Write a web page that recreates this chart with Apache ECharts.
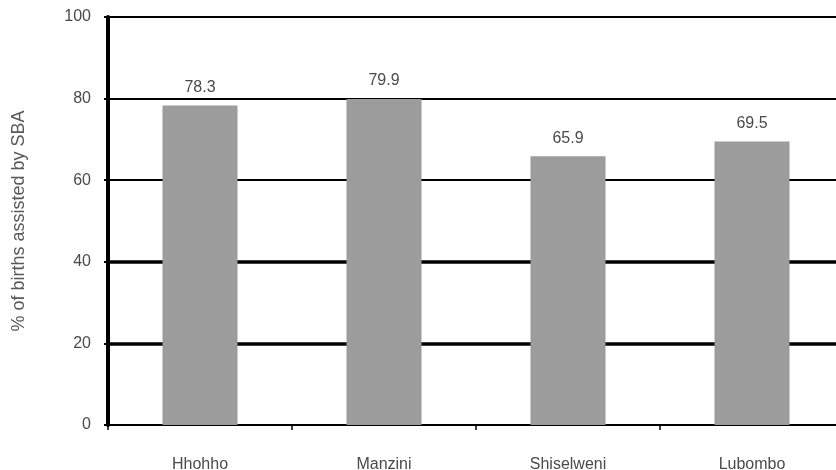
<!DOCTYPE html>
<html>
<head>
<meta charset="utf-8">
<script src="https://cdn.jsdelivr.net/npm/echarts@6/dist/echarts.min.js"></script>
<style>
  html, body { margin: 0; padding: 0; background: #fff; overflow: hidden; }
  /* plot area runs slightly past the right edge of the window */
  #chart { width: 844px; height: 470px; }
</style>
</head>
<body>
<div id="chart"></div>
<script>
// Regions and share of births assisted by a skilled birth attendant (%)
const regions = ['Hhohho', 'Manzini', 'Shiselweni', 'Lubombo'];
const sbaShare = [78.3, 79.9, 65.9, 69.5];
const yTicks = [0, 20, 40, 60, 80, 100];
// gridlines drawn heavier than the rest
const heavyRules = [20, 40];

const chart = echarts.init(document.getElementById('chart'), null, { renderer: 'canvas' });

const font = 'Liberation Sans, Arial, sans-serif';
const textColor = '#4a4a4a';

chart.setOption({
  animation: false,
  backgroundColor: '#ffffff',
  grid: {
    left: 108, top: 17, right: 0, bottom: 45,
    containLabel: false,
    outerBoundsMode: 'none'
  },
  xAxis: {
    type: 'category',
    data: regions,
    boundaryGap: true,
    axisLine: { show: true, lineStyle: { color: '#000', width: 2 } },
    axisTick: { show: true, length: 5, lineStyle: { color: '#000', width: 1.5 } },
    axisLabel: { color: textColor, fontFamily: font, fontSize: 16, margin: 32 }
  },
  yAxis: {
    type: 'value',
    min: yTicks[0],
    max: yTicks[yTicks.length - 1],
    interval: yTicks[1] - yTicks[0],
    name: '% of births assisted by SBA',
    nameLocation: 'middle',
    nameGap: 80,
    nameRotate: 90,
    nameTextStyle: { color: '#5a5a5a', fontFamily: font, fontSize: 18 },
    axisLine: { show: true, lineStyle: { color: '#000', width: 4 } },
    axisTick: { show: true, length: 4, lineStyle: { color: '#000', width: 2 } },
    axisLabel: { color: textColor, fontFamily: font, fontSize: 16, margin: 17 },
    splitLine: { show: true, lineStyle: { color: '#000', width: 2 } }
  },
  series: [{
    type: 'bar',
    data: sbaShare,
    barWidth: 75,
    itemStyle: { color: '#9c9c9c' },
    z: 3,
    label: {
      show: true,
      position: 'top',
      distance: 10,
      color: textColor,
      fontFamily: font,
      fontSize: 16,
      formatter: p => p.value.toFixed(1)
    },
    markLine: {
      silent: true,
      symbol: 'none',
      label: { show: false },
      z: 1,
      lineStyle: { color: '#000', width: 3.5, type: 'solid' },
      data: heavyRules.map(v => ({ yAxis: v }))
    }
  }]
});
</script>
</body>
</html>
